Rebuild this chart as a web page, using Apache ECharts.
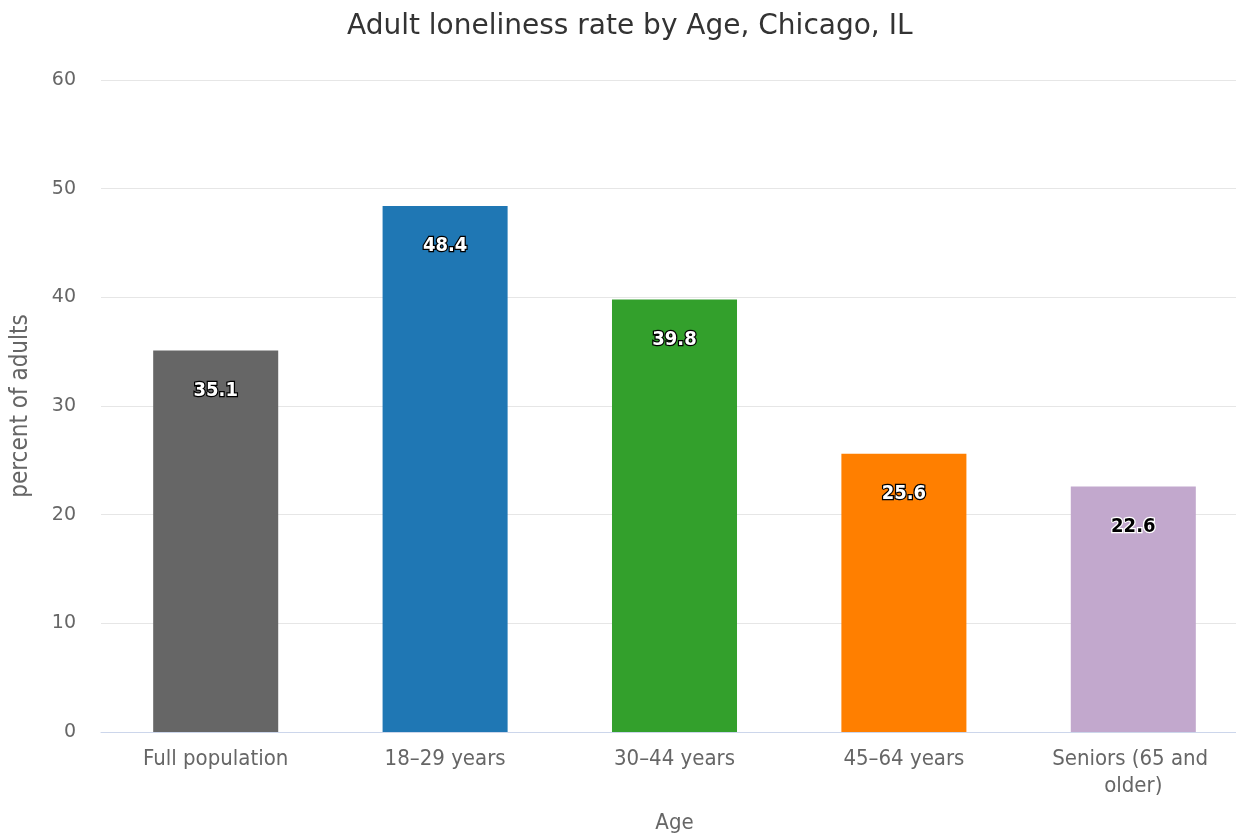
<!DOCTYPE html>
<html><head><meta charset="utf-8">
<script src="https://cdn.jsdelivr.net/npm/echarts@6/dist/echarts.min.js"></script>
<style>html,body{margin:0;padding:0;background:#fff}#c{width:1236px;height:836px}</style>
</head><body><div id="c"></div>
<script>
const categories = ["Full population", "18–29 years", "30–44 years", "45–64 years", "Seniors (65 and older)"];
const values = [35.1, 48.4, 39.8, 25.6, 22.6];
const barColors = ["#666666", "#1f77b4", "#33a02c", "#ff7f00", "#c2a8cd"];
const labelDark = [false, false, false, false, true];
const yTicks = { min: 0, max: 60, interval: 10 };

const chart = echarts.init(document.getElementById('c'), null, { renderer: 'canvas' });
chart.setOption({
  animation: false,
  backgroundColor: '#ffffff',
  title: {
    text: 'Adult loneliness rate by Age, Chicago, IL',
    left: 342, top: 8,
    textStyle: { fontFamily: 'DejaVu Sans', fontSize: 28, fontWeight: 'normal', color: '#333333' }
  },
  grid: { left: 101, right: -12, top: 80, bottom: 104, containLabel: false, outerBoundsMode: 'none' },
  xAxis: {
    type: 'category', data: categories,
    name: 'Age', nameLocation: 'middle', nameGap: 80,
    nameTextStyle: { fontFamily: 'DejaVu Sans Condensed', fontSize: 22, color: '#666666' },
    axisLine: { lineStyle: { color: '#ccd6eb', width: 1 } },
    axisTick: { show: false },
    axisLabel: { interval: 0, fontFamily: 'DejaVu Sans Condensed', fontSize: 22, color: '#666666', margin: 14, width: 190, overflow: 'break', lineHeight: 27 }
  },
  yAxis: {
    type: 'value', min: yTicks.min, max: yTicks.max, interval: yTicks.interval,
    name: 'percent of adults', nameLocation: 'middle', nameGap: 68, nameRotate: 90,
    nameTextStyle: { fontFamily: 'DejaVu Sans Condensed', fontSize: 24, color: '#666666' },
    axisLine: { show: false }, axisTick: { show: false },
    axisLabel: { fontFamily: 'DejaVu Sans', fontSize: 19, color: '#666666', margin: 25 },
    splitLine: { lineStyle: { color: '#e6e6e6', width: 1 } }
  },
  series: [{
    type: 'bar', barWidth: '54.5%',
    data: values.map((v, i) => ({
      value: v,
      itemStyle: { color: barColors[i] },
      label: {
        color: labelDark[i] ? '#000000' : '#ffffff',
        textBorderColor: labelDark[i] ? '#ffffff' : '#000000'
      }
    })),
    label: {
      show: true, position: 'insideTop', distance: 30,
      fontFamily: 'DejaVu Sans Condensed', fontSize: 20, fontWeight: 'bold',
      textBorderWidth: 2.5
    }
  }]
});
</script></body></html>
